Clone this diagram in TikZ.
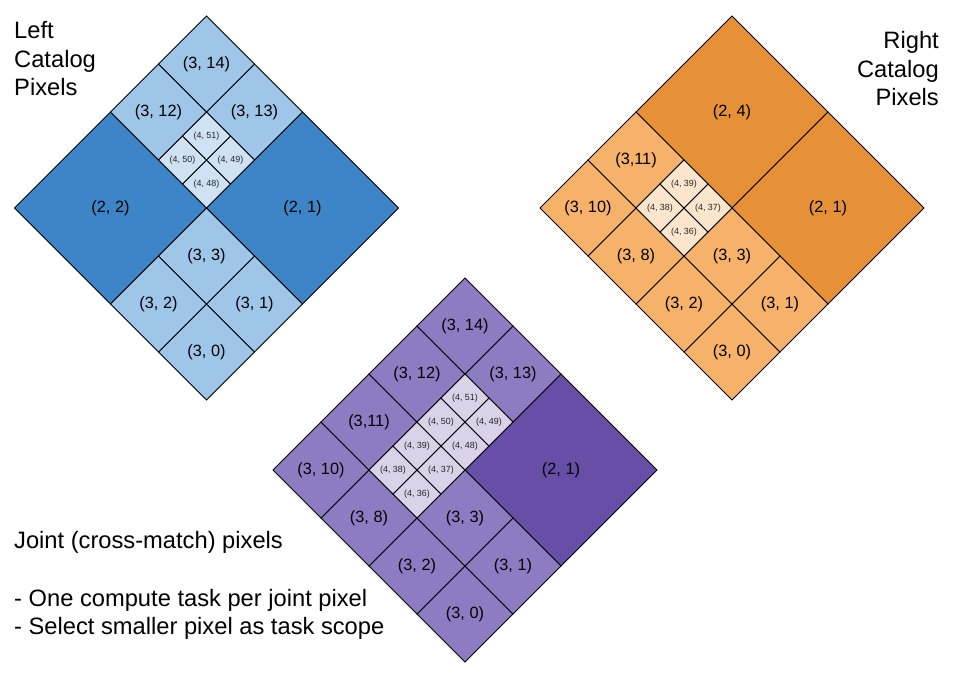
\documentclass[tikz,border=0pt]{standalone}
\usepackage{fontspec}
\setmainfont{Liberation Sans}
\definecolor{blueD}{HTML}{3D85C6}
\definecolor{blueM}{HTML}{9FC5E8}
\definecolor{blueL}{HTML}{CFE2F3}
\definecolor{orD}{HTML}{E69138}
\definecolor{orM}{HTML}{F6B26B}
\definecolor{orL}{HTML}{FCE5CD}
\definecolor{puD}{HTML}{674EA7}
\definecolor{puM}{HTML}{8E7CC3}
\definecolor{puL}{HTML}{D9D2E9}
\tikzset{
  cellline/.style={draw=black, line width=0.8pt, line join=miter},
  lbl/.style={font=\fontsize{16.3}{19}\selectfont, inner sep=0pt},
  slbl/.style={font=\fontsize{8.9}{10}\selectfont, text=black!85, inner sep=0pt},
  ttl/.style={font=\fontsize{23.7}{28}\selectfont, inner sep=0pt},
  diamond frame/.style={x={(48pt,48pt)}, y={(-48pt,48pt)}},
}
\newcommand\pxc[7]{%
  \filldraw[cellline, fill=#4] (#1,#2) -- ++(#3,0) -- ++(0,#3) -- ++(-#3,0) -- cycle;
  \node[#5] (#6) at ({#1+#3/2},{#2+#3/2}) {#7};
}
\begin{document}
\begin{tikzpicture}[x=1pt,y=-1pt]
\useasboundingbox (0,0) rectangle (953,696);
% ---------------- Left catalog ----------------
\begin{scope}[shift={(206.5,400)}, diamond frame]
\pxc{2}{0}{2}{blueD}{lbl}{L21}{(2, 1)}
\pxc{0}{2}{2}{blueD}{lbl}{L22}{(2, 2)}
\pxc{0}{0}{1}{blueM}{lbl}{L30}{(3, 0)}
\pxc{1}{0}{1}{blueM}{lbl}{L31}{(3, 1)}
\pxc{0}{1}{1}{blueM}{lbl}{L32}{(3, 2)}
\pxc{1}{1}{1}{blueM}{lbl}{L33}{(3, 3)}
\pxc{2}{3}{1}{blueM}{lbl}{L312}{(3, 12)}
\pxc{3}{2}{1}{blueM}{lbl}{L313}{(3, 13)}
\pxc{3}{3}{1}{blueM}{lbl}{L314}{(3, 14)}
\pxc{2}{2}{0.5}{blueL}{slbl}{L448}{(4, 48)}
\pxc{2.5}{2}{0.5}{blueL}{slbl}{L449}{(4, 49)}
\pxc{2}{2.5}{0.5}{blueL}{slbl}{L450}{(4, 50)}
\pxc{2.5}{2.5}{0.5}{blueL}{slbl}{L451}{(4, 51)}
\end{scope}
% ---------------- Right catalog ----------------
\begin{scope}[shift={(732,400)}, diamond frame]
\pxc{2}{2}{2}{orD}{lbl}{R24}{(2, 4)}
\pxc{2}{0}{2}{orD}{lbl}{R21}{(2, 1)}
\pxc{0}{0}{1}{orM}{lbl}{R30}{(3, 0)}
\pxc{1}{0}{1}{orM}{lbl}{R31}{(3, 1)}
\pxc{0}{1}{1}{orM}{lbl}{R32}{(3, 2)}
\pxc{1}{1}{1}{orM}{lbl}{R33}{(3, 3)}
\pxc{0}{2}{1}{orM}{lbl}{R38}{(3, 8)}
\pxc{0}{3}{1}{orM}{lbl}{R310}{(3, 10)}
\pxc{1}{3}{1}{orM}{lbl}{R311}{(3,11)}
\pxc{1}{2}{0.5}{orL}{slbl}{R436}{(4, 36)}
\pxc{1.5}{2}{0.5}{orL}{slbl}{R437}{(4, 37)}
\pxc{1}{2.5}{0.5}{orL}{slbl}{R438}{(4, 38)}
\pxc{1.5}{2.5}{0.5}{orL}{slbl}{R439}{(4, 39)}
\end{scope}
% ---------------- Joint pixels ----------------
\begin{scope}[shift={(465,662)}, diamond frame]
\pxc{2}{0}{2}{puD}{lbl}{J21}{(2, 1)}
\pxc{0}{0}{1}{puM}{lbl}{J30}{(3, 0)}
\pxc{1}{0}{1}{puM}{lbl}{J31}{(3, 1)}
\pxc{0}{1}{1}{puM}{lbl}{J32}{(3, 2)}
\pxc{1}{1}{1}{puM}{lbl}{J33}{(3, 3)}
\pxc{0}{2}{1}{puM}{lbl}{J38}{(3, 8)}
\pxc{0}{3}{1}{puM}{lbl}{J310}{(3, 10)}
\pxc{1}{3}{1}{puM}{lbl}{J311}{(3,11)}
\pxc{2}{3}{1}{puM}{lbl}{J312}{(3, 12)}
\pxc{3}{2}{1}{puM}{lbl}{J313}{(3, 13)}
\pxc{3}{3}{1}{puM}{lbl}{J314}{(3, 14)}
\pxc{1}{2}{0.5}{puL}{slbl}{J436}{(4, 36)}
\pxc{1.5}{2}{0.5}{puL}{slbl}{J437}{(4, 37)}
\pxc{1}{2.5}{0.5}{puL}{slbl}{J438}{(4, 38)}
\pxc{1.5}{2.5}{0.5}{puL}{slbl}{J439}{(4, 39)}
\pxc{2}{2}{0.5}{puL}{slbl}{J448}{(4, 48)}
\pxc{2.5}{2}{0.5}{puL}{slbl}{J449}{(4, 49)}
\pxc{2}{2.5}{0.5}{puL}{slbl}{J450}{(4, 50)}
\pxc{2.5}{2.5}{0.5}{puL}{slbl}{J451}{(4, 51)}
\end{scope}
% ---------------- Texts ----------------
\node[ttl, anchor=base west] (tl1) at (14,38) {Left};
\node[ttl, anchor=base west] (tl2) at (14,67) {Catalog};
\node[ttl, anchor=base west] (tl3) at (14,95.5) {Pixels};
\node[ttl, anchor=base east] (tr1) at (939,48) {Right};
\node[ttl, anchor=base east] (tr2) at (939,77) {Catalog};
\node[ttl, anchor=base east] (tr3) at (939,105.5) {Pixels};
\node[ttl, anchor=base west] (tj1) at (14,548) {Joint (cross-match) pixels};
\node[ttl, anchor=base west] (tj2) at (14,606) {- One compute task per joint pixel};
\node[ttl, anchor=base west] (tj3) at (14,634) {- Select smaller pixel as task scope};
\end{tikzpicture}
\end{document}
